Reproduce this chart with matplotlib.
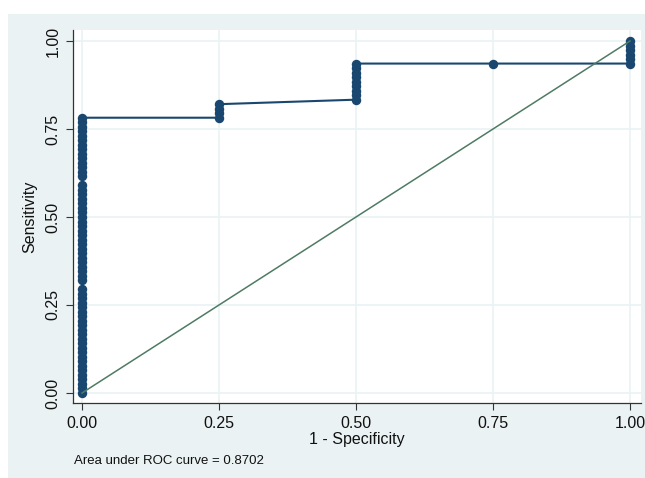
"""ROC curve (Stata roctab style) with area under the curve note."""

import matplotlib.pyplot as plt
from matplotlib.patches import Rectangle

plt.rcParams["font.family"] = ["Liberation Sans", "DejaVu Sans"]

N_POS = 78
N_NEG = 4

# false / true positive counts at each cutoff, in plotting order
fp_counts = (
    [0] * 60
    + [1, 1, 1, 1]
    + [2, 2, 2, 2, 2, 2, 2, 2, 2]
    + [3]
    + [4, 4, 4, 4, 4, 4]
)
tp_counts = (
    [0, 1, 2, 3, 4, 5, 6, 7, 8, 9, 10, 11, 12, 13, 14, 15, 16, 17, 18, 19,
     20, 21, 22, 23, 25, 26, 27, 28, 29, 30, 31, 32, 33, 34, 35, 36, 37, 38,
     39, 40, 41, 42, 43, 44, 45, 46, 48, 49, 50, 51, 52, 53, 54, 55, 56, 57,
     58, 59, 60, 61]
    + [61, 62, 63, 64]
    + [65, 66, 67, 68, 69, 70, 71, 72, 73]
    + [73]
    + [73, 74, 75, 76, 77, 78]
)
tick_values = [0.0, 0.25, 0.5, 0.75, 1.0]
tick_labels = ["0.00", "0.25", "0.50", "0.75", "1.00"]
auc_text = "Area under ROC curve = 0.8702"

NAVY = "#1a476f"
REF = "#4e7b63"
BG = "#eaf2f3"

spec_x = [f / N_NEG for f in fp_counts]
sens_y = [t / N_POS for t in tp_counts]

fig = plt.figure(figsize=(6.45, 4.78), dpi=100)
fig.patch.set_facecolor("white")
fig.patches.append(Rectangle((8 / 645, 0), 1, 1 - 14 / 478, transform=fig.transFigure,
                             facecolor=BG, edgecolor="none", zorder=-1))

ax = fig.add_axes([73 / 645, 1 - 403 / 478, (641 - 73) / 645, (403 - 30) / 478])
ax.set_facecolor("white")

ax.plot(spec_x, sens_y, color=NAVY, linewidth=1.5, marker="o", markersize=6.8,
        markeredgewidth=0, markerfacecolor=NAVY, zorder=3, clip_on=False)
ax.plot([0, 1], [0, 1], color=REF, linewidth=1.1, zorder=4)

ax.set_xlim(-9 / 548, 1 + 11 / 548)
ax.set_ylim(-10 / 352, 1 + 11 / 352)

ax.set_xticks(tick_values)
ax.set_xticklabels(tick_labels)
ax.set_yticks(tick_values)
ax.set_yticklabels(tick_labels, rotation=90, va="center")
ax.tick_params(axis="both", direction="out", length=5, width=0.8, color="#333333",
               labelsize=11.5, labelcolor="#111111", pad=4)

ax.grid(True, color=BG, linewidth=1.2)
ax.set_axisbelow(True)
for side in ("top", "right"):
    ax.spines[side].set_visible(False)
for side in ("left", "bottom"):
    ax.spines[side].set_color("#333333")
    ax.spines[side].set_linewidth(0.9)

ax.set_xlabel("1 - Specificity", fontsize=11.5, labelpad=1, color="#111111")
ax.set_ylabel("Sensitivity", fontsize=11.5, labelpad=6, color="#111111")

fig.text(74 / 645, 1 - 461 / 478, auc_text, fontsize=9.5, va="center", ha="left",
         color="#111111")

fig.savefig("out.png", dpi=100)
